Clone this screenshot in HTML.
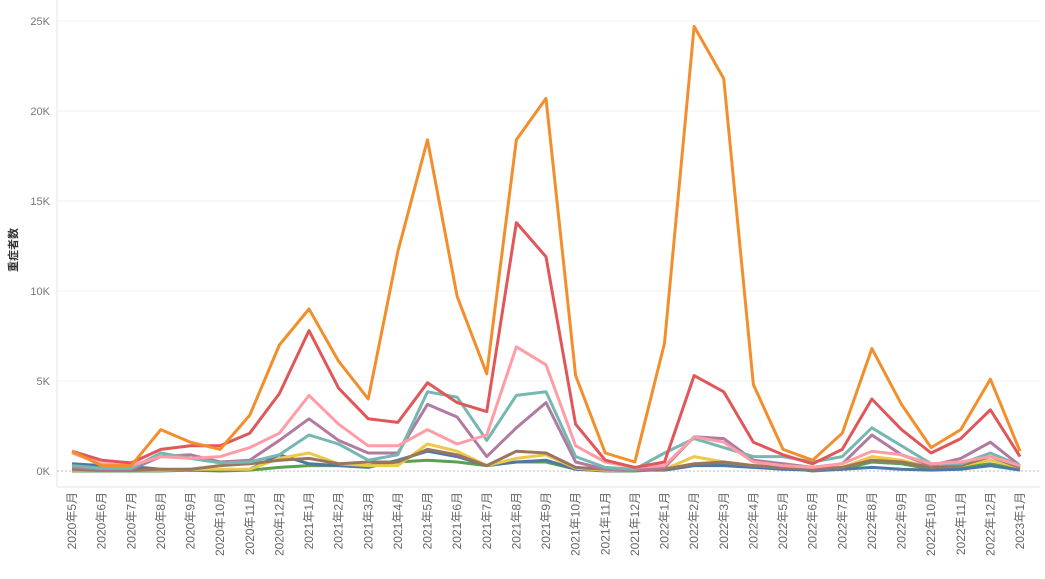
<!DOCTYPE html>
<html><head><meta charset="utf-8"><style>
body{margin:0;background:#fff;width:1045px;height:574px;overflow:hidden;font-family:"Liberation Sans","Noto Sans CJK JP",sans-serif}
</style></head><body>
<svg id="c" width="1045" height="574" xmlns="http://www.w3.org/2000/svg"></svg>
<script>
const months=["2020年5月","2020年6月","2020年7月","2020年8月","2020年9月","2020年10月","2020年11月","2020年12月","2021年1月","2021年2月","2021年3月","2021年4月","2021年5月","2021年6月","2021年7月","2021年8月","2021年9月","2021年10月","2021年11月","2021年12月","2022年1月","2022年2月","2022年3月","2022年4月","2022年5月","2022年6月","2022年7月","2022年8月","2022年9月","2022年10月","2022年11月","2022年12月","2023年1月"];
const yTicks=[0,5,10,15,20,25];
const green=[0,0,0,0,0.05,0,0.05,0.2,0.3,0.3,0.3,0.5,0.6,0.5,0.3,0.5,0.5,0.1,0,0,0.1,0.4,0.4,0.3,0.2,0,0.1,0.5,0.4,0.1,0.2,0.4,0.1];
const blue=[0.4,0.3,0.25,0.1,0.05,0.05,0.1,0.9,0.4,0.3,0.2,0.6,1.1,0.8,0.3,0.5,0.6,0.1,0.05,0.05,0.05,0.3,0.3,0.2,0.1,0.05,0.1,0.2,0.1,0.05,0.1,0.3,0.05];
const yellow=[0.05,0.05,0.05,0.05,0.1,0.1,0.1,0.7,1.0,0.4,0.3,0.3,1.5,1.1,0.3,0.7,0.9,0.15,0.05,0.05,0.1,0.8,0.5,0.3,0.2,0.1,0.2,0.8,0.6,0.2,0.3,0.6,0.2];
const brown=[0.1,0.05,0.05,0.1,0.1,0.3,0.4,0.6,0.7,0.4,0.5,0.5,1.2,0.9,0.3,1.1,1.0,0.2,0.1,0.05,0.1,0.4,0.5,0.3,0.2,0.1,0.2,0.6,0.5,0.2,0.3,0.8,0.2];
const purple=[0.2,0.1,0.1,0.8,0.9,0.5,0.6,1.7,2.9,1.7,1.0,1.0,3.7,3.0,0.8,2.4,3.8,0.5,0.1,0.05,0.2,1.9,1.8,0.6,0.4,0.2,0.4,2.0,0.9,0.3,0.7,1.6,0.3];
const teal=[0.3,0.15,0.15,1.0,0.7,0.45,0.5,0.9,2.0,1.5,0.6,0.9,4.4,4.1,1.7,4.2,4.4,0.8,0.2,0.1,1.0,1.8,1.3,0.8,0.8,0.5,0.8,2.4,1.4,0.4,0.4,1.0,0.3];
const pink=[1.0,0.4,0.3,0.8,0.7,0.8,1.3,2.1,4.2,2.6,1.4,1.4,2.3,1.5,2.0,6.9,5.9,1.4,0.5,0.2,0.3,1.9,1.6,0.5,0.3,0.2,0.4,1.1,0.9,0.4,0.5,0.8,0.3];
const red=[1.1,0.6,0.45,1.2,1.4,1.4,2.1,4.3,7.8,4.6,2.9,2.7,4.9,3.8,3.3,13.8,11.9,2.6,0.6,0.2,0.5,5.3,4.4,1.6,0.9,0.4,1.2,4.0,2.3,1.0,1.8,3.4,0.8];
const orange=[1.1,0.3,0.3,2.3,1.6,1.2,3.1,7.0,9.0,6.1,4.0,12.2,18.4,9.7,5.4,18.4,20.7,5.3,1.0,0.5,7.1,24.7,21.8,4.8,1.2,0.6,2.1,6.8,3.7,1.3,2.3,5.1,1.1];
const series=[["green",green,"#59a14f"],["blue",blue,"#4e79a7"],["yellow",yellow,"#edc948"],["brown",brown,"#9c755f"],["purple",purple,"#b07aa1"],["teal",teal,"#76b7b2"],["pink",pink,"#ff9da7"],["red",red,"#e15759"],["orange",orange,"#f28e2b"]];
const NS="http://www.w3.org/2000/svg",svg=document.getElementById('c');
const x=i=>72+i*(1020-72)/(months.length-1);
const y=v=>471-v*18;
function mk(t,a,p){const e=document.createElementNS(NS,t);for(const k in a)e.setAttribute(k,a[k]);(p||svg).appendChild(e);return e;}
mk('line',{x1:57,y1:0,x2:57,y2:487,stroke:'#e6e6e6'});
mk('line',{x1:57,y1:487,x2:1040,y2:487,stroke:'#e6e6e6'});
yTicks.forEach(t=>{
  if(t>0){const g=mk('line',{x1:57,x2:1040,y1:y(t),y2:y(t),stroke:'#f0f0f0'});}
  const l=mk('text',{x:50,y:y(t)+4,'text-anchor':'end','font-size':11,fill:'#777'});l.textContent=t+'K';
  
  
});
mk('line',{x1:57,x2:1040,y1:471,y2:471,stroke:'#bbb','stroke-dasharray':'2,2'});
const yt=mk('text',{x:0,y:0,transform:'translate(17,250) rotate(-90)','text-anchor':'middle','font-size':11,'font-weight':'bold',fill:'#333'});
yt.textContent='重症者数';


months.forEach((m,i)=>{
  const t=mk('text',{x:0,y:0,transform:`translate(${x(i)+4},492) rotate(-90)`,'text-anchor':'end','font-size':12,fill:'#666'});
  t.textContent=m;
  
  
});
series.forEach(([n,d,c])=>{
  const p=mk('polyline',{points:d.map((v,i)=>x(i)+','+y(v)).join(' '),fill:'none',stroke:c,'stroke-width':3,'stroke-linejoin':'round'});
  
  
});
</script>
</body></html>
